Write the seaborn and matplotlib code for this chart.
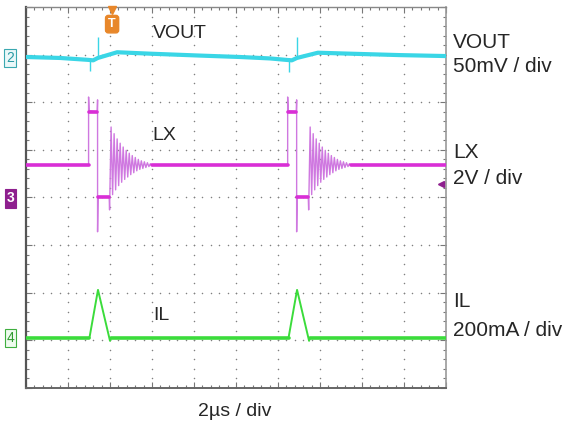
import numpy as np
import matplotlib
matplotlib.use("Agg")
import matplotlib.pyplot as plt
import seaborn as sns
import pandas as pd
from matplotlib.transforms import blended_transform_factory

# Screen is 10 x 8 divisions, all values in divisions
event_starts = [1.49, 6.23]

# VOUT slow ripple
vout_t = [0.0, 0.81, 1.48, 1.60, 1.71, 2.17, 2.95, 4.14, 5.10, 5.81, 6.19, 6.33, 6.45, 6.95, 7.71, 8.90, 10.0]
vout_v = [6.95, 6.93, 6.89, 6.88, 6.93, 7.05, 7.02, 6.98, 6.95, 6.92, 6.89, 6.88, 6.93, 7.04, 7.02, 6.99, 6.97]
vout_spike_t = [1.52, 1.71, 6.26, 6.45]
vout_spike_lo = [6.65, 6.93, 6.63, 6.93]
vout_spike_hi = [6.93, 7.37, 6.93, 7.37]

# LX, one switching cycle (time relative to event start)
lx_base = 4.68
lx_high = 5.80
lx_low = 4.02
lx_edge_t = [0.0, 0.0, 0.012, 0.205, 0.214, 0.214, 0.226, 0.49, 0.50]
lx_edge_v = [4.68, 6.11, 5.82, 5.80, 6.05, 3.28, 4.02, 4.02, 3.74]
ring_start = 0.50
ring_step = 0.036
ring_amp = [0.80, -0.62, 0.66, -0.52, 0.55, -0.43, 0.46, -0.36, 0.38, -0.30, 0.31, -0.25,
            0.25, -0.20, 0.20, -0.16, 0.16, -0.12, 0.12, -0.09, 0.09, -0.07, 0.07, -0.05,
            0.05, -0.03, 0.03, 0.0]

# IL, one triangle (time relative to event start)
il_base = 1.05
il_t = [0.0, 0.02, 0.224, 0.51, 0.53]
il_v = [1.05, 1.05, 2.06, 0.99, 1.05]

# channel reference markers
ch_labels = ["2", "3", "4"]
ch_levels = [6.93, 3.98, 1.05]
trigger_pos = 2.05

c_vout = "#3ad6e6"
c_lx = "#d92ed6"
c_ring = "#cf78e0"
c_il = "#3bdc3b"

sns.set_style("white")
plt.rcParams['font.family'] = ['Liberation Sans', 'DejaVu Sans']

fig = plt.figure(figsize=(5.66, 4.23), dpi=100)
ax = fig.add_axes([26 / 566, 35 / 423, 420 / 566, 381 / 423])
ax.set_xlim(0, 10)
ax.set_ylim(0, 8)
ax.set_facecolor("none")

# dotted graticule
gx, gy = np.meshgrid(np.arange(1, 10), np.arange(0, 8.01, 0.2))
ax.scatter(gx.ravel(), gy.ravel(), s=1.2, color="#808080", linewidths=0, zorder=1)
gx, gy = np.meshgrid(np.arange(0, 10.01, 0.2), np.arange(1, 8))
ax.scatter(gx.ravel(), gy.ravel(), s=1.2, color="#808080", linewidths=0, zorder=1)

# ---- LX trace ----
thin_rows = []
thick_rows = []
prev_end = 0.0
for k, ev in enumerate(event_starts):
    thick_rows += [(prev_end, lx_base, f"b{k}"), (ev, lx_base, f"b{k}")]
    thick_rows += [(ev + 0.012, lx_high, f"h{k}"), (ev + 0.205, lx_high, f"h{k}")]
    thick_rows += [(ev + 0.226, lx_low, f"l{k}"), (ev + 0.49, lx_low, f"l{k}")]
    for t, v in zip(lx_edge_t, lx_edge_v):
        thin_rows.append((ev + t, v, f"e{k}"))
    for i, a in enumerate(ring_amp):
        thin_rows.append((ev + ring_start + ring_step * (i + 1), lx_base + a, f"e{k}"))
    prev_end = ev + ring_start + ring_step * len(ring_amp)
thick_rows += [(prev_end, lx_base, "bend"), (10.0, lx_base, "bend")]
lx_thin = pd.DataFrame(thin_rows, columns=["t", "v", "seg"])
lx_thick = pd.DataFrame(thick_rows, columns=["t", "v", "seg"])
sns.lineplot(data=lx_thin, x="t", y="v", units="seg", estimator=None, sort=False,
             color=c_ring, lw=1.0, ax=ax, zorder=3)
sns.lineplot(data=lx_thick, x="t", y="v", units="seg", estimator=None, sort=False,
             color=c_lx, lw=2.6, ax=ax, zorder=4)

# ---- VOUT trace ----
sns.lineplot(x=vout_t, y=vout_v, sort=False, estimator=None, color=c_vout, lw=3.0, ax=ax, zorder=4)
ax.vlines(vout_spike_t, vout_spike_lo, vout_spike_hi, color=c_vout, lw=1.0, zorder=4)

# ---- IL trace ----
il_rows = []
prev_end = 0.0
for k, ev in enumerate(event_starts):
    il_rows += [(prev_end, il_base, f"b{k}"), (ev + 0.02, il_base, f"b{k}")]
    prev_end = ev + il_t[-1]
il_rows += [(prev_end, il_base, "bend"), (10.0, il_base, "bend")]
il_thick = pd.DataFrame(il_rows, columns=["t", "v", "seg"])
il_thin = pd.DataFrame([(ev + t, v, f"e{k}") for k, ev in enumerate(event_starts)
                        for t, v in zip(il_t, il_v)], columns=["t", "v", "seg"])
sns.lineplot(data=il_thin, x="t", y="v", units="seg", estimator=None, sort=False,
             color=c_il, lw=1.4, ax=ax, zorder=3)
sns.lineplot(data=il_thick, x="t", y="v", units="seg", estimator=None, sort=False,
             color=c_il, lw=2.6, ax=ax, zorder=4)

# frame and ticks
ax.set_xticks(np.arange(0, 10.01, 1))
ax.set_yticks(np.arange(0, 8.01, 1))
ax.set_xticks(np.arange(0, 10.01, 0.2), minor=True)
ax.set_yticks(np.arange(0, 8.01, 0.2), minor=True)
ax.tick_params(which="both", direction="in", top=True, right=True, bottom=True, left=True,
               labelbottom=False, labelleft=False, color="#777777", width=0.8)
ax.tick_params(which="major", length=4)
ax.tick_params(which="minor", length=2.5)
ax.set_xlabel("")
ax.set_ylabel("")
for side, col, w in [("left", "#555555", 1.6), ("bottom", "#666666", 1.4),
                     ("right", "#9a9a9a", 1.2), ("top", "#888888", 1.0)]:
    ax.spines[side].set_visible(True)
    ax.spines[side].set_color(col)
    ax.spines[side].set_linewidth(w)

# channel markers on the left
left_tr = blended_transform_factory(ax.transAxes, ax.transData)
ax.text(-0.037, ch_levels[0], ch_labels[0], transform=left_tr, ha="center", va="center",
        fontsize=10, color="#2a9aa4",
        bbox=dict(boxstyle="square,pad=0.15", fc="#eaf8f9", ec="#3aa8b0", lw=0.8))
ax.text(-0.037, ch_levels[1], ch_labels[1], transform=left_tr, ha="center", va="center",
        fontsize=10, color="white", fontweight="bold",
        bbox=dict(boxstyle="square,pad=0.15", fc="#8e1f8e", ec="#8e1f8e", lw=0.8))
ax.text(-0.037, ch_levels[2], ch_labels[2], transform=left_tr, ha="center", va="center",
        fontsize=10, color="#2f9a2f",
        bbox=dict(boxstyle="square,pad=0.15", fc="#eefbee", ec="#3fae3f", lw=0.8))

# LX reference arrow on the right
ax.plot([9.88], [4.28], marker="<", ms=5, color="#8e1f8e", clip_on=False, zorder=5)

# trigger marker
top_tr = blended_transform_factory(ax.transData, ax.transAxes)
ax.plot([trigger_pos], [0.992], marker="v", ms=6, color="#e8872a", transform=top_tr,
        clip_on=False, zorder=5)
ax.text(trigger_pos, 0.955, "T", transform=top_tr, ha="center", va="center", fontsize=9,
        color="white", fontweight="bold",
        bbox=dict(boxstyle="round,pad=0.22", fc="#e8872a", ec="#e8872a"), zorder=5)

# trace labels inside the screen
ax.text(3.02, 7.45, "VOUT", fontsize=14, ha="left", va="center")
ax.text(3.02, 5.31, "LX", fontsize=14, ha="left", va="center")
ax.text(3.02, 1.53, "IL", fontsize=14, ha="left", va="center")

# scale labels on the right
for txt, ypx in [("VOUT", 42), ("50mV / div", 67), ("LX", 153), ("2V / div", 178),
                 ("IL", 301), ("200mA / div", 330)]:
    fig.text(453 / 566, 1 - ypx / 423, txt, fontsize=15, ha="left", va="center")
fig.text(235 / 566, 1 - 411 / 423, "2µs / div", fontsize=14, ha="center", va="center")

fig.savefig("out.png", dpi=100)
